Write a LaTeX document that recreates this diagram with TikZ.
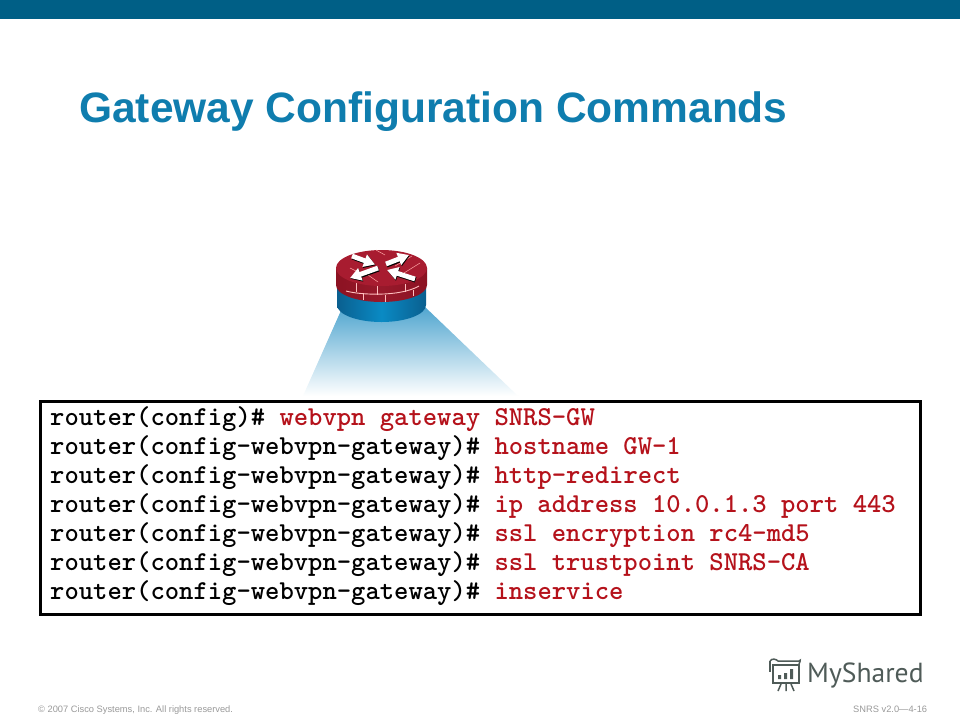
\documentclass[tikz,border=0pt]{standalone}
\usepackage{fontspec}
\setmainfont{Liberation Sans}
\newfontfamily\logofont{PT Sans}
\usetikzlibrary{arrows.meta}
\definecolor{barblue}{HTML}{005F86}
\definecolor{titleblue}{HTML}{0F7DAE}
\definecolor{cmdred}{HTML}{B5121B}
\definecolor{brickred}{HTML}{A81C30}
\definecolor{brickdark}{HTML}{8C1222}
\definecolor{wallblue}{HTML}{0A8AC4}
\definecolor{walldark}{HTML}{0A5F8F}
\definecolor{beamblue}{HTML}{4FA5CF}
\definecolor{logogray}{HTML}{4F5B58}
\definecolor{footgray}{HTML}{9A9A9A}
\tikzset{
  codeline/.style={anchor=base west,inner sep=0pt,font=\ttfamily\fontsize{27.3}{29}\selectfont\bfseries,text=black},
  brickline/.style={draw=white!75!red,line width=0.9pt},
  arrowshadow/.style={draw=black,line width=5.4pt,-{Triangle[length=11pt,width=13pt]}},
  arrowlight/.style={draw=white,line width=4.8pt,-{Triangle[length=11pt,width=12.5pt]}},
  foot/.style={anchor=base west,inner sep=0pt,font=\fontsize{9.3}{10}\selectfont,text=footgray},
  logoline/.style={draw=logogray,line width=1.5pt}
}
\newcommand{\cmd}[1]{\textcolor{cmdred}{#1}}
\begin{document}
\begin{tikzpicture}[x=1pt,y=-1pt]
\useasboundingbox (0,0) rectangle (960,720);
\fill[white] (0,0) rectangle (960,720);
% top bar
\fill[barblue] (0,0) rectangle (960,18.5);
% title
\node[anchor=base west,inner sep=0pt,font=\fontsize{42.5}{46}\selectfont\bfseries,text=titleblue] (title) at (79,122) {Gateway Configuration Commands};
% beam
\shade[top color=beamblue,bottom color=white,middle color=beamblue!50!white]
  (343,306) -- (303,396) -- (518,396) -- (424,306) -- cycle;
% router: blue wall
\shade[left color=walldark,right color=walldark,middle color=wallblue]
  (337,285) -- (337,305) arc[start angle=180,end angle=0,x radius=44.5,y radius=17] -- (426,285) -- cycle;
% red wall
\shade[left color=brickdark,right color=brickdark,middle color=brickred!90!black]
  (336,268) -- (336,285) arc[start angle=180,end angle=0,x radius=45.5,y radius=17] -- (427,268) -- cycle;
% brick lines on wall
\draw[brickline] (346,291) .. controls (360,295) and (400,297) .. (419,286);
\draw[brickline] (356,283) -- (356,292) (377,285) -- (377,295) (405,284) -- (405,292);
\draw[brickline] (363,293) -- (363,300) (385,295) -- (385,302) (413,290) -- (413,296);
% top
\fill[brickred] (381.5,268) ellipse[x radius=45.5,y radius=18];
\draw[white!65!red,line width=0.5pt] (376,250) -- (385,255) (412,256) -- (395,266) (350,268) -- (362,274) (378,282) -- (368,275) (404,273) -- (420,263);
% arrows
\coordinate (a1s) at (352,256); \coordinate (a1e) at (375,264.5);
\coordinate (a2s) at (386,264); \coordinate (a2e) at (409,255);
\coordinate (a3s) at (378,268); \coordinate (a3e) at (350,278);
\coordinate (a4s) at (415,279); \coordinate (a4e) at (387,270);
\foreach \s/\e in {a1s/a1e,a2s/a2e,a3s/a3e,a4s/a4e}{
  \draw[arrowshadow] ([shift={(0.6,0.8)}]\s) -- ([shift={(0.6,0.8)}]\e);
  \draw[arrowlight] (\s) -- (\e);
}
% code box
\node[draw=black,line width=3pt,fill=white,outer sep=0pt,minimum width=880pt,minimum height=213pt,inner sep=0pt,anchor=north west] (box) at (40,401) {};
\node[codeline] (l1) at (50,425.7) {router(config)\# \cmd{webvpn gateway SNRS-GW}};
\node[codeline] (l2) at (50,454.7) {router(config-webvpn-gateway)\# \cmd{hostname GW-1}};
\node[codeline] (l3) at (50,483.7) {router(config-webvpn-gateway)\# \cmd{http-redirect}};
\node[codeline] (l4) at (50,512.7) {router(config-webvpn-gateway)\# \cmd{ip address 10.0.1.3 port 443}};
\node[codeline] (l5) at (50,541.7) {router(config-webvpn-gateway)\# \cmd{ssl encryption rc4-md5}};
\node[codeline] (l6) at (50,570.7) {router(config-webvpn-gateway)\# \cmd{ssl trustpoint SNRS-CA}};
\node[codeline] (l7) at (50,599.7) {router(config-webvpn-gateway)\# \cmd{inservice}};
% footer
\node[foot] (copy) at (38,712) {© 2007 Cisco Systems, Inc. All rights reserved.};
\node[foot] (ver) at (853,712) {SNRS v2.0—4-16};
% logo
\node[anchor=base west,inner sep=0pt,font=\logofont\fontsize{27.6}{32}\selectfont,text=logogray] (logo) at (807,682) {MyShared};
\draw[logoline] (773,665) -- (799,665) -- (799,683) -- (773,683) -- cycle;
\draw[logoline] (770,661) .. controls (772,658) and (776,659) .. (778,661) -- (799,661) .. controls (800,659) and (801,660) .. (799,664);
\draw[logoline] (770,661) -- (770,672);
\fill[logogray] (778,675) rectangle (781,679) (784,673) rectangle (787,679) (790,669) rectangle (793,679);
\draw[logoline] (781,684) -- (778,691) (786,684) -- (786,691) (791,684) -- (794,691);
\end{tikzpicture}
\end{document}
